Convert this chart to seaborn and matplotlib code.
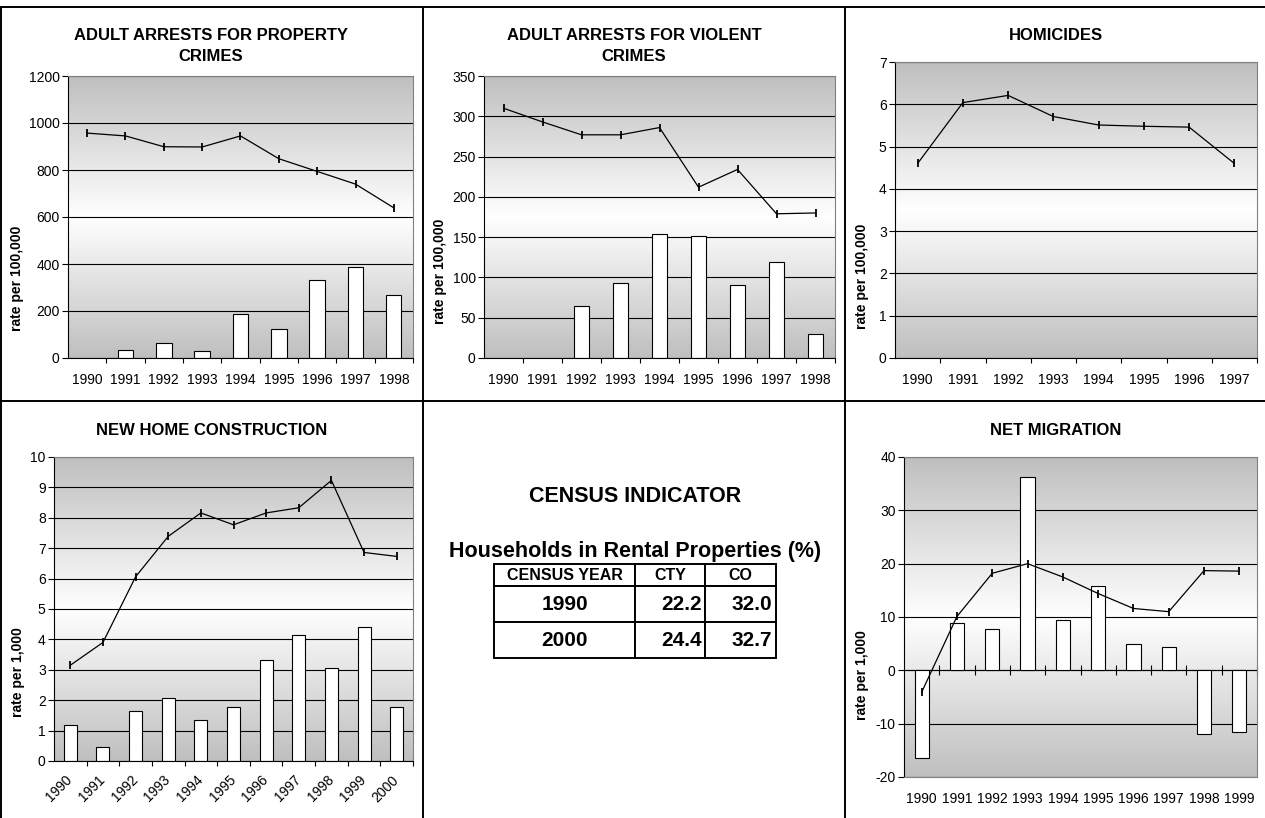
import numpy as np
import pandas as pd
import seaborn as sns
import matplotlib
import matplotlib.pyplot as plt
from matplotlib.colors import LinearSegmentedColormap
from matplotlib.lines import Line2D
from matplotlib.table import Table

# ---- data ----
prop_years = ['1990', '1991', '1992', '1993', '1994', '1995', '1996', '1997', '1998']
prop_line = [957, 945, 899, 898, 945, 848, 794, 740, 639]
prop_bars = [np.nan, 33, 65, 30, 186, 122, 334, 388, 267]

viol_years = ['1990', '1991', '1992', '1993', '1994', '1995', '1996', '1997', '1998']
viol_line = [310, 293, 277, 277, 286, 212, 234, 179, 180]
viol_bars = [np.nan, np.nan, 64, 93, 154, 152, 91, 119, 30]

hom_years = ['1990', '1991', '1992', '1993', '1994', '1995', '1996', '1997']
hom_line = [4.6, 6.04, 6.21, 5.71, 5.51, 5.48, 5.46, 4.6]

home_years = ['1990', '1991', '1992', '1993', '1994', '1995', '1996', '1997', '1998', '1999', '2000']
home_line = [3.15, 3.9, 6.06, 7.39, 8.16, 7.77, 8.16, 8.33, 9.23, 6.86, 6.73]
home_bars = [1.2, 0.47, 1.65, 2.06, 1.36, 1.79, 3.33, 4.14, 3.07, 4.42, 1.76]

mig_years = ['1990', '1991', '1992', '1993', '1994', '1995', '1996', '1997', '1998', '1999']
mig_line = [-4.1, 10.1, 18.2, 20.0, 17.5, 14.4, 11.6, 11.0, 18.7, 18.6]
mig_bars = [-16.4, 8.8, 7.8, 36.3, 9.5, 15.9, 5.0, 4.3, -12.0, -11.6]

census_cols = ['CENSUS YEAR', 'CTY', 'CO']
census_years = ['1990', '2000']
census_cty = [22.2, 24.4]
census_co = [32.0, 32.7]

# ---- style ----
sns.set_style('white')
plt.rcParams['font.family'] = ['Liberation Sans', 'DejaVu Sans']
plt.rcParams['axes.unicode_minus'] = False
plt.rcParams['text.color'] = 'black'
plt.rcParams['axes.labelcolor'] = 'black'
plt.rcParams['xtick.color'] = 'black'
plt.rcParams['ytick.color'] = 'black'
plt.rcParams['axes.edgecolor'] = 'black'
plt.rcParams['axes.linewidth'] = 0.8

W, H = 1265, 818
fig = plt.figure(figsize=(W / 100, H / 100), dpi=100)
TICK_FS = 10


def px_axes(x0, y0, x1, y1):
    return fig.add_axes([x0 / W, 1 - y1 / H, (x1 - x0) / W, (y1 - y0) / H])


grad_cmap = LinearSegmentedColormap.from_list('xl', ['#bfbfbf', '#ffffff', '#bfbfbf'])
grad = np.linspace(0, 1, 256).reshape(-1, 1)


def draw(ax, years, line, bars=None):
    if bars is not None:
        df = pd.DataFrame({'year': years, 'value': bars})
        sns.barplot(data=df, x='year', y='value', order=years, color='white',
                    edgecolor='black', linewidth=0.8, width=0.4, errorbar=None,
                    saturation=1, ax=ax)
    dl = pd.DataFrame({'year': years, 'value': line})
    sns.pointplot(data=dl, x='year', y='value', order=years, color='black',
                  markers='|', linestyles='-', linewidth=0.9, markersize=6,
                  markeredgewidth=1.3, errorbar=None, ax=ax)


def style(ax, years, ymin, ymax, step, ylabel, lab_xy, rotate=False, zero_axis=False):
    ax.imshow(grad, cmap=grad_cmap, aspect='auto', extent=[0, 1, 0, 1],
              transform=ax.transAxes, zorder=0, interpolation='bilinear')
    n = len(years)
    ax.set_xlim(-0.5, n - 0.5)
    ax.set_ylim(ymin, ymax)
    ax.set_yticks(np.arange(ymin, ymax + step / 2, step))
    ax.set_xticks(range(n))
    if rotate:
        ax.set_xticklabels(years, rotation=45, ha='right', rotation_mode='anchor', va='center')
        ax.tick_params(axis='x', which='major', length=0, pad=12, labelsize=TICK_FS)
    else:
        ax.set_xticklabels(years)
        ax.tick_params(axis='x', which='major', length=0, pad=11, labelsize=TICK_FS)
    ax.tick_params(axis='y', which='major', left=True, direction='out', length=4,
                   width=0.8, pad=2, labelsize=TICK_FS)
    ax.yaxis.grid(True, color='black', linewidth=0.8)
    ax.xaxis.grid(False)
    ax.set_axisbelow(True)
    ax.set_xlabel('')
    ax.set_ylabel(ylabel, fontsize=10, fontweight='bold')
    ax.yaxis.set_label_coords(*lab_xy)
    for s in ['top', 'right']:
        ax.spines[s].set_color('#808080')
    ax.spines['left'].set_color('black')
    if zero_axis:
        ax.spines['bottom'].set_color('#808080')
        pos = (0 - ymin) / (ymax - ymin)
        sec = ax.secondary_xaxis(pos)
        sec.set_xticks(np.arange(0.5, n))
        sec.tick_params(axis='x', which='major', direction='inout', length=7, width=0.8,
                        bottom=True, top=False, labelbottom=False, labeltop=False)
        for s in sec.spines.values():
            s.set_color('black')
    else:
        ax.spines['bottom'].set_color('black')
        ax.set_xticks(np.arange(0.5, n), minor=True)
        ax.tick_params(axis='x', which='minor', bottom=True, direction='out',
                       length=3.5, width=0.8)


# panel 1: property crimes
ax1 = px_axes(68, 76, 413, 358)
draw(ax1, prop_years, prop_line, prop_bars)
style(ax1, prop_years, 0, 1200, 200, 'rate per 100,000', (-0.128, 0.284))

# panel 2: violent crimes
ax2 = px_axes(484, 76, 835, 358)
draw(ax2, viol_years, viol_line, viol_bars)
style(ax2, viol_years, 0, 350, 50, 'rate per 100,000', (-0.105, 0.309))

# panel 3: homicides
ax3 = px_axes(895, 62, 1257, 358)
draw(ax3, hom_years, hom_line)
style(ax3, hom_years, 0, 7, 1, 'rate per 100,000', (-0.072, 0.277))

# panel 4: new home construction
ax4 = px_axes(54, 457, 413, 761)
draw(ax4, home_years, home_line, home_bars)
style(ax4, home_years, 0, 10, 1, 'rate per 1,000', (-0.081, 0.293), rotate=True)

# panel 6: net migration
ax6 = px_axes(904, 457, 1257, 777)
draw(ax6, mig_years, mig_line, mig_bars)
style(ax6, mig_years, -20, 40, 10, 'rate per 1,000', (-0.099, 0.319), zero_axis=True)

# titles (centred on each cell)
tkw = dict(ha='center', va='center', fontsize=12, fontweight='bold', linespacing=1.45)
fig.text(211 / W, 1 - 46 / H, 'ADULT ARRESTS FOR PROPERTY\nCRIMES', **tkw)
fig.text(634 / W, 1 - 46 / H, 'ADULT ARRESTS FOR VIOLENT\nCRIMES', **tkw)
fig.text(1056 / W, 1 - 35 / H, 'HOMICIDES', **tkw)
fig.text(212 / W, 1 - 430 / H, 'NEW HOME CONSTRUCTION', **tkw)
fig.text(1056 / W, 1 - 431 / H, 'NET MIGRATION', **tkw)

# census indicator text + table
fig.text(635 / W, 1 - 496 / H, 'CENSUS INDICATOR', ha='center', va='center',
         fontsize=15.5, fontweight='bold')
fig.text(635 / W, 1 - 551 / H, 'Households in Rental Properties (%)', ha='center',
         va='center', fontsize=15.5, fontweight='bold')

tab_ax = px_axes(494, 564, 776, 658)
tab_ax.axis('off')
tbl = Table(tab_ax, bbox=[0, 0, 1, 1])
col_w = [141, 70, 71]
for j, name in enumerate(census_cols):
    c = tbl.add_cell(0, j, col_w[j], 22, text=name, loc='center')
    c.get_text().set_fontsize(11.5)
    c.get_text().set_fontweight('bold')
for i, (yr, a, b) in enumerate(zip(census_years, census_cty, census_co)):
    vals = [yr, f'{a:.1f}', f'{b:.1f}']
    for j, v in enumerate(vals):
        c = tbl.add_cell(i + 1, j, col_w[j], 36, text=v,
                         loc='center' if j == 0 else 'right')
        c.PAD = 0.05
        c.get_text().set_fontsize(15)
        c.get_text().set_fontweight('bold')
tbl.auto_set_font_size(False)
for c in tbl.get_celld().values():
    c.set_linewidth(1.4)
    c.set_edgecolor('black')
tab_ax.add_table(tbl)

# cell frame lines
def frame(x0, y0, x1, y1):
    fig.add_artist(Line2D([x0 / W, x1 / W], [1 - y0 / H, 1 - y1 / H],
                          transform=fig.transFigure, color='black', linewidth=1.4))

frame(1, 7, W, 7)
frame(1, 401, W, 401)
frame(1, 7, 1, H)
frame(423, 7, 423, H)
frame(845, 7, 845, H)

fig.savefig('out.png', dpi=100)
